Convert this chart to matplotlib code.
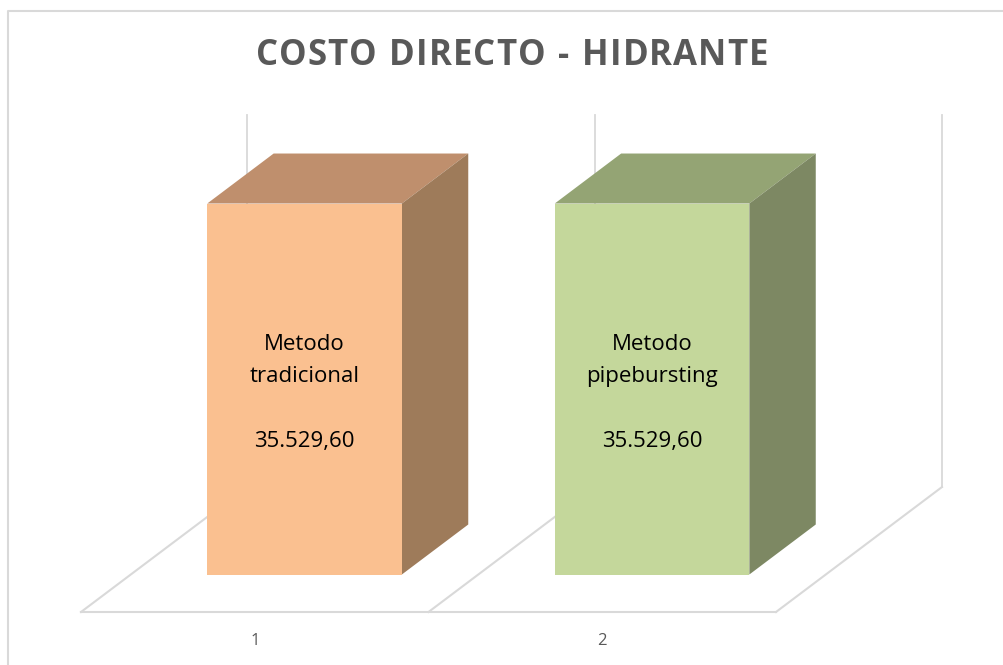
import matplotlib.pyplot as plt
from matplotlib.patches import Polygon

# costo directo por metodo (hidrante)
categories = ["1", "2"]
methods = ["Metodo\ntradicional", "Metodo\npipebursting"]
values = [35529.60, 35529.60]
front_colors = ["#FAC090", "#C4D79B"]
top_colors = ["#BF8F6D", "#94A474"]
side_colors = ["#9E7B5A", "#7D8863"]

title = "COSTO DIRECTO - HIDRANTE"
grid_color = "#D9D9D9"
text_gray = "#595959"

# oblique projection: depth axis drawn up and to the right
depth_x = 0.4777      # category units per full depth
depth_y = 11970.0     # value units per full depth
bar_half = 0.28
d_front, d_back = 0.30, 0.70
wall_top = 35630.0


def proj(x, d, v):
    return (x + d * depth_x, v + d * depth_y)


fig = plt.figure(figsize=(10.04, 6.65), dpi=100)
ax = fig.add_axes([0, 0, 1, 1])
ax.set_xlim(-0.2331, 2.6561)
ax.set_ylim(-5076, 58611)
ax.axis("off")

# chart frame (top and left edges)
fig.add_artist(plt.Line2D([0.008, 0.008, 1.0], [0.0, 0.984, 0.984],
                          transform=fig.transFigure, color=grid_color, lw=1.5))

n = len(values)

# back wall verticals
for i in range(n + 1):
    x0, y0 = proj(i, 1, 0)
    x1, y1 = proj(i, 1, wall_top)
    ax.plot([x0, x1], [y0, y1], color=grid_color, lw=1.3, zorder=1)

# floor: front edge and depth lines
fx0, fy0 = proj(0, 0, 0)
fx1, fy1 = proj(n, 0, 0)
ax.plot([fx0, fx1], [fy0, fy1], color=grid_color, lw=1.5, zorder=1)
for i in range(n + 1):
    a = proj(i, 0, 0)
    b = proj(i, 1, 0)
    ax.plot([a[0], b[0]], [a[1], b[1]], color=grid_color, lw=1.5, zorder=1)

# bars
for i, (v, label) in enumerate(zip(values, methods)):
    xc = i + 0.5
    xl, xr = xc - bar_half, xc + bar_half
    top = [proj(xl, d_front, v), proj(xr, d_front, v),
           proj(xr, d_back, v), proj(xl, d_back, v)]
    side = [proj(xr, d_front, 0), proj(xr, d_back, 0),
            proj(xr, d_back, v), proj(xr, d_front, v)]
    front = [proj(xl, d_front, 0), proj(xr, d_front, 0),
             proj(xr, d_front, v), proj(xl, d_front, v)]
    ax.add_patch(Polygon(top, closed=True, facecolor=top_colors[i],
                         edgecolor="none", zorder=3))
    ax.add_patch(Polygon(side, closed=True, facecolor=side_colors[i],
                         edgecolor="none", zorder=3))
    ax.add_patch(Polygon(front, closed=True, facecolor=front_colors[i],
                         edgecolor="none", zorder=4))

    cx, cy = proj(xc, d_front, v / 2)
    val_txt = f"{v:,.2f}".replace(",", "X").replace(".", ",").replace("X", ".")
    ax.text(cx, cy - 380, f"{label}\n\n{val_txt}", ha="center", va="center",
            fontsize=16, family="Open Sans", color="black",
            linespacing=1.72, zorder=5)

    # category label under the floor
    tx, ty = proj(xc, 0, 0)
    ax.text(tx, ty - 2800, categories[i], ha="center", va="center",
            fontsize=12, family="Open Sans", color=text_gray)

# title with letter spacing: lay characters out one by one
renderer = fig.canvas.get_renderer()
title_kw = dict(fontsize=25, fontweight="bold", family="Open Sans",
                color=text_gray, va="center", ha="left")
widths = []
for ch in title:
    t = fig.text(0, 0, ch if ch != " " else "i", **title_kw)
    widths.append(t.get_window_extent(renderer).width)
    t.remove()
target_w = 513.0
gap = (target_w - sum(widths)) / (len(title) - 1)
x = 512.0 - target_w / 2
for ch, w in zip(title, widths):
    if ch != " ":
        fig.text(x / 1004, 1 - 56 / 665, ch, **title_kw)
    x += w + gap

fig.savefig("out.png", dpi=100, facecolor="white")
